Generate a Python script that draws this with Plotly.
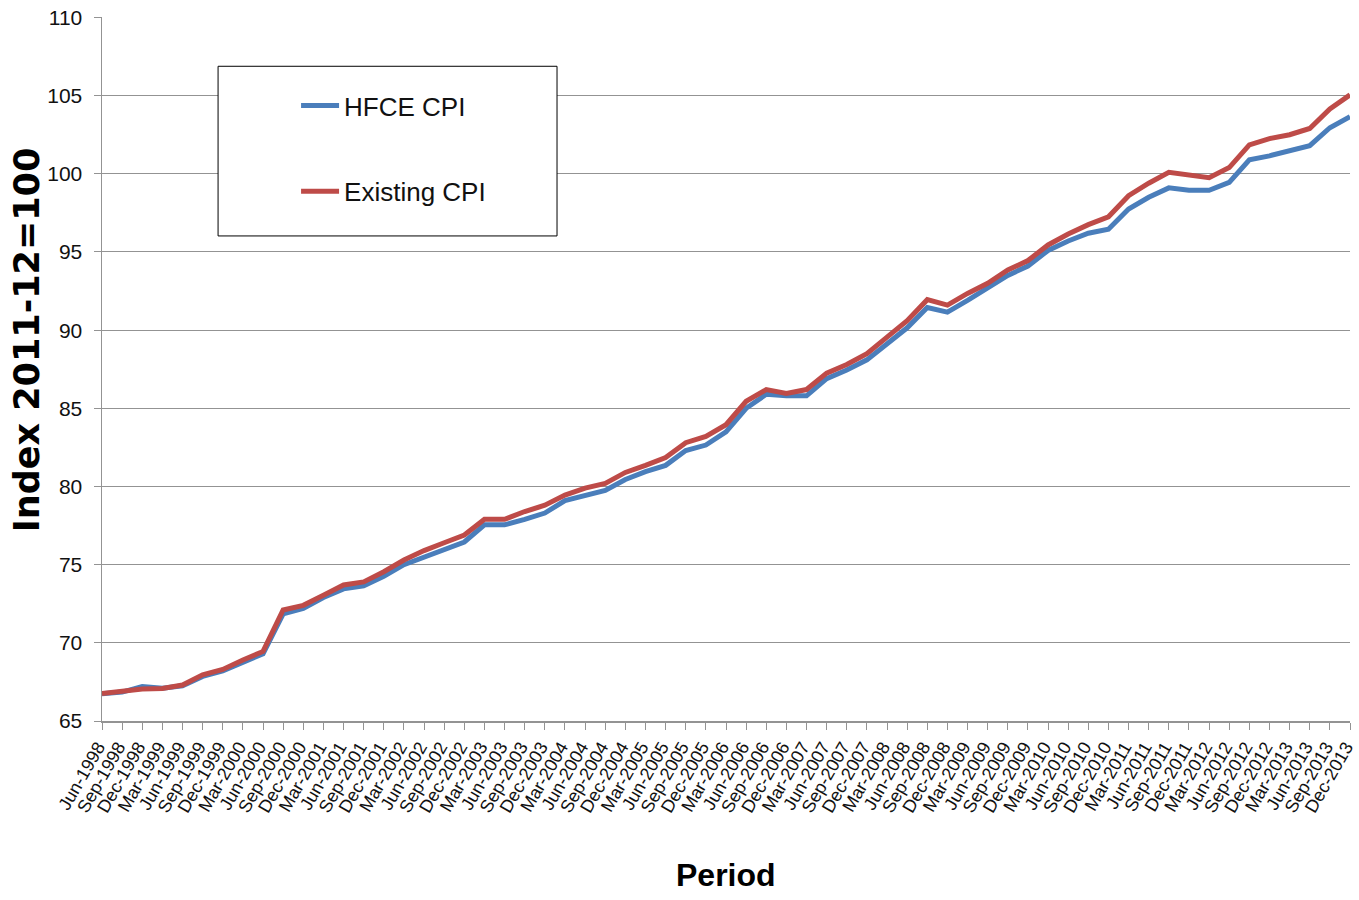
import plotly.graph_objects as go

periods = [
    "Jun-1998", "Sep-1998", "Dec-1998",
    "Mar-1999", "Jun-1999", "Sep-1999", "Dec-1999",
    "Mar-2000", "Jun-2000", "Sep-2000", "Dec-2000",
    "Mar-2001", "Jun-2001", "Sep-2001", "Dec-2001",
    "Mar-2002", "Jun-2002", "Sep-2002", "Dec-2002",
    "Mar-2003", "Jun-2003", "Sep-2003", "Dec-2003",
    "Mar-2004", "Jun-2004", "Sep-2004", "Dec-2004",
    "Mar-2005", "Jun-2005", "Sep-2005", "Dec-2005",
    "Mar-2006", "Jun-2006", "Sep-2006", "Dec-2006",
    "Mar-2007", "Jun-2007", "Sep-2007", "Dec-2007",
    "Mar-2008", "Jun-2008", "Sep-2008", "Dec-2008",
    "Mar-2009", "Jun-2009", "Sep-2009", "Dec-2009",
    "Mar-2010", "Jun-2010", "Sep-2010", "Dec-2010",
    "Mar-2011", "Jun-2011", "Sep-2011", "Dec-2011",
    "Mar-2012", "Jun-2012", "Sep-2012", "Dec-2012",
    "Mar-2013", "Jun-2013", "Sep-2013", "Dec-2013",
]

hfce_cpi = [
    66.75, 66.85, 67.2,
    67.1, 67.25, 67.85, 68.2,
    68.75, 69.3, 71.85, 72.2,
    72.9, 73.45, 73.65, 74.25,
    75.0, 75.5, 76.0, 76.45,
    77.55, 77.55, 77.9, 78.3,
    79.1, 79.45, 79.75, 80.45,
    80.95, 81.35, 82.3, 82.65,
    83.5, 85.0, 85.9, 85.8,
    85.8, 86.9, 87.45, 88.1,
    89.15, 90.15, 91.45, 91.15,
    91.9, 92.7, 93.5, 94.1,
    95.1, 95.7, 96.2, 96.45,
    97.75, 98.5, 99.1, 98.95,
    98.95, 99.45, 100.9, 101.15,
    101.45, 101.8, 102.95, 103.65,
]

existing_cpi = [
    66.75, 66.88, 67.05,
    67.08, 67.3, 67.95, 68.3,
    68.9, 69.45, 72.1, 72.4,
    73.05, 73.7, 73.9, 74.55,
    75.3, 75.9, 76.4, 76.9,
    77.9, 77.9, 78.4, 78.8,
    79.45, 79.9, 80.2, 80.9,
    81.35, 81.85, 82.8, 83.2,
    83.95, 85.45, 86.2, 85.95,
    86.2, 87.25, 87.8, 88.5,
    89.55, 90.6, 91.95, 91.6,
    92.35, 93.0, 93.85, 94.45,
    95.45, 96.15, 96.75, 97.25,
    98.6, 99.4, 100.1, 99.95,
    99.75, 100.4, 101.85, 102.25,
    102.5, 102.9, 104.15, 105.05,
]

y_ticks = [65, 70, 75, 80, 85, 90, 95, 100, 105, 110]

FONT = "Liberation Sans, Arial, sans-serif"
GRID = "#939393"

fig = go.Figure()
fig.add_trace(go.Scatter(
    x=periods, y=hfce_cpi, mode="lines", name="HFCE CPI",
    line=dict(color="#4A7EBB", width=5), legendgroup="a",
))
fig.add_trace(go.Scatter(
    x=periods, y=existing_cpi, mode="lines", name="Existing CPI",
    line=dict(color="#BE4B48", width=5), legendgroup="b",
))

fig.update_layout(
    width=1359, height=900,
    margin=dict(l=102, r=9, t=17, b=179, autoexpand=False),
    paper_bgcolor="white", plot_bgcolor="white",
    hovermode=False,
    showlegend=True,
    legend=dict(
        x=0.1555, y=0.9075, xanchor="left", yanchor="top",
        bgcolor="rgba(0,0,0,0)", borderwidth=0,
        font=dict(family=FONT, size=26, color="#111111"),
        tracegroupgap=49, itemwidth=38,
    ),
    xaxis=dict(
        type="category", automargin=False,
        tickmode="array", tickvals=periods, ticktext=periods,
        tickangle=-60, ticklabeloverflow="allow", ticklabelshift=-4,
        tickfont=dict(family=FONT, size=18, color="#111111"),
        showgrid=False,
        showline=True, linecolor=GRID, linewidth=1.5,
        ticks="outside", ticklen=7, tickcolor=GRID,
        range=[0, len(periods) - 1],
        zeroline=False,
    ),
    yaxis=dict(
        automargin=False,
        range=[65, 110.03],
        tickmode="array", tickvals=y_ticks,
        ticklabeloverflow="allow",
        tickfont=dict(family=FONT, size=21, color="#111111"),
        ticklabelstandoff=7,
        showgrid=True, gridcolor=GRID, gridwidth=1,
        showline=True, linecolor=GRID, linewidth=1.5,
        ticks="outside", ticklen=7, tickcolor=GRID,
        zeroline=False,
    ),
    shapes=[dict(
        type="rect", xref="paper", yref="paper",
        x0=0.093, x1=0.3646, y0=0.689, y1=0.930,
        line=dict(color="black", width=1), fillcolor="white", layer="above",
    )],
    annotations=[
        dict(text="<b>Index 2011-12=100</b>", xref="paper", yref="paper",
             x=-0.060, y=0.541, textangle=-90, showarrow=False,
             xanchor="center", yanchor="middle",
             font=dict(family="DejaVu Sans", size=35, color="black")),
        dict(text="<b>Period</b>", xref="paper", yref="paper",
             x=0.5, y=-0.219, showarrow=False,
             xanchor="center", yanchor="middle",
             font=dict(family=FONT, size=32, color="black")),
    ],
)

fig.write_html(
    "out.html",
    config={"displayModeBar": False, "staticPlot": True},
    post_script="document.body.style.margin='0';document.body.style.overflow='hidden';",
)
